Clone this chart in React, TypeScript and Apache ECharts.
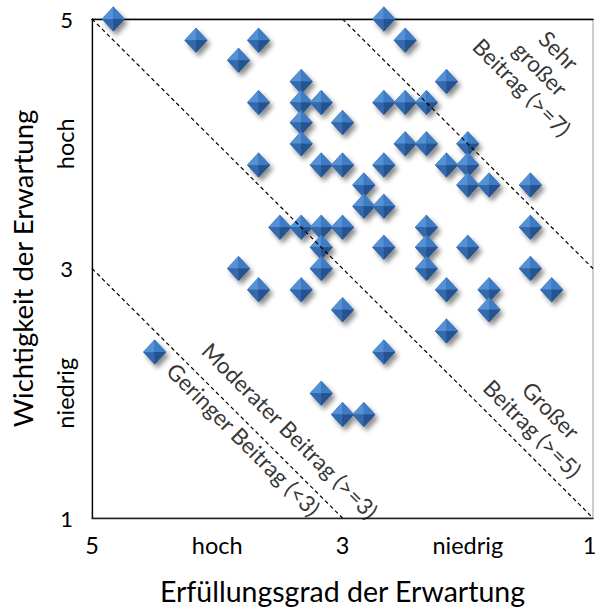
import React, { useEffect, useRef } from "react";
import * as echarts from "echarts";

// Erfüllungsgrad der Erwartung (x) und Wichtigkeit der Erwartung (y)
const erfuellung = [
  4.83, 4.17, 3.67, 3.83, 3.67, 3.33, 3.33, 3.17, 3.33, 3.33, 3.0, 3.67, 3.17, 3.0,
  2.67, 2.5, 2.17, 2.67, 2.5, 2.33, 2.5, 2.33, 2.0, 2.67, 2.17, 2.0, 2.83, 2.0, 1.83, 1.5,
  2.83, 2.67, 3.5, 3.33, 3.17, 3.0, 3.17, 3.17, 2.33, 2.33, 2.33, 2.67, 2.0, 1.5, 1.5,
  3.83, 3.67, 3.33, 2.17, 1.83, 1.83, 1.33, 3.0, 2.17, 4.5, 2.67, 3.17, 3.0, 2.83,
];
const wichtigkeit = [
  5.0, 4.83, 4.83, 4.67, 4.33, 4.5, 4.33, 4.33, 4.17, 4.0, 4.17, 3.83, 3.83, 3.83,
  5.0, 4.83, 4.5, 4.33, 4.33, 4.33, 4.0, 4.0, 4.0, 3.83, 3.83, 3.83, 3.67, 3.67, 3.67, 3.67,
  3.5, 3.5, 3.33, 3.33, 3.33, 3.33, 3.17, 3.0, 3.33, 3.17, 3.0, 3.17, 3.17, 3.33, 3.0,
  3.0, 2.83, 2.83, 2.83, 2.83, 2.67, 2.83, 2.67, 2.5, 2.33, 2.33, 2.0, 1.83, 1.83,
];

const xTickLabels: Record<number, string> = { 5: "5", 4: "hoch", 3: "3", 2: "niedrig", 1: "1" };
const yNumberLabels: Record<number, string> = { 5: "5", 3: "3", 1: "1" };
const yWordLabels: Record<number, string> = { 4: "hoch", 2: "niedrig" };

// Grenzlinien (Endpunkte in Datenkoordinaten)
const grenzeModerat = [[5, 3], [3, 1]];
const grenzeGross = [[5, 5], [1, 1]];
const grenzeSehrGross = [[3, 5], [1, 3]];

const bereichsTexte = [
  "Sehr\ngroßer\nBeitrag (>=7)",
  "Großer\nBeitrag (>=5)",
  "Moderater Beitrag (>=3)",
  "Geringer Beitrag (<3)",
];

const FONT = "Lato";

export default function App() {
  const ref = useRef<HTMLDivElement>(null);
  useEffect(() => {
    if (!ref.current) return;
    const chart = echarts.init(ref.current, undefined, { renderer: "svg" });

    const anchors = [[1.42, 4.6], [1.41, 1.79], [3.42, 1.70], [3.79, 1.63]];

    const dashed = (d: number[][]) => ({
      type: "line",
      data: d,
      symbol: "none",
      silent: true,
      z: 5,
      lineStyle: { color: "#000", width: 1.2, type: [4, 3] },
    });

    const option: any = {
      animation: false,
      grid: {
        left: 92, top: 19, right: 5, bottom: 90,
        show: true, borderColor: "#9a9a9a", borderWidth: 1,
        outerBoundsMode: "none",
      },
      xAxis: [
        {
          type: "value", min: 1, max: 5, interval: 1, inverse: true, position: "bottom",
          axisLine: { show: true, onZero: false, lineStyle: { color: "#222", width: 1.3 } },
          axisTick: { show: false },
          splitLine: { show: false },
          axisLabel: {
            formatter: (v: number) => (v === 1 ? "{e|1}" : xTickLabels[v] ?? ""),
            fontFamily: FONT, fontSize: 23.5, color: "#000", margin: 15,
            rich: { e: { fontFamily: FONT, fontSize: 23.5, color: "#000", padding: [0, 7, 0, 0] } },
          },
          name: "Erfüllungsgrad der Erwartung",
          nameLocation: "middle",
          nameGap: 58,
          nameTextStyle: { fontFamily: FONT, fontSize: 28.5, color: "#000" },
        },
        {
          type: "value", min: 1, max: 5, interval: 1, inverse: true, position: "top",
          axisLine: { show: true, onZero: false, lineStyle: { color: "#000", width: 1.3 } },
          axisTick: { show: false }, axisLabel: { show: false }, splitLine: { show: false },
        },
      ],
      yAxis: [
        {
          type: "value", min: 1, max: 5, interval: 1, position: "left",
          axisLine: { show: true, onZero: false, lineStyle: { color: "#000", width: 1.3 } },
          axisTick: { show: false },
          splitLine: { show: false },
          axisLabel: {
            formatter: (v: number) => yNumberLabels[v] ?? "",
            fontFamily: FONT, fontSize: 22, color: "#000", margin: 19,
          },
          name: "Wichtigkeit der Erwartung",
          nameLocation: "middle",
          nameGap: 56,
          nameTextStyle: { fontFamily: FONT, fontSize: 27.5, color: "#000" },
        },
        {
          type: "value", min: 1, max: 5, interval: 1, position: "left",
          axisLine: { show: false }, axisTick: { show: false }, splitLine: { show: false },
          axisLabel: {
            rotate: 90,
            formatter: (v: number) => yWordLabels[v] ?? "",
            fontFamily: FONT, fontSize: 23.5, color: "#000", margin: 15,
          },
        },
      ],
      series: [
        {
          type: "custom",
          z: 3,
          data: erfuellung.map((x, i) => [x, wichtigkeit[i]]),
          renderItem: (_p: any, api: any) => {
            const [cx, cy] = api.coord([api.value(0), api.value(1)]);
            const hw = 11.5, hh = 12.5;
            const T = [cx, cy - hh], R = [cx + hw, cy], B = [cx, cy + hh], L = [cx - hw, cy], C = [cx, cy];
            return {
              type: "group",
              children: [
                {
                  type: "polygon", shape: { points: [T, R, B, L] },
                  style: {
                    fill: "#2f65a8", shadowBlur: 5, shadowOffsetX: 3, shadowOffsetY: 4,
                    shadowColor: "rgba(0,0,0,0.45)",
                  },
                },
                { type: "polygon", shape: { points: [T, L, C] }, style: { fill: "#5591d5" } },
                { type: "polygon", shape: { points: [T, R, C] }, style: { fill: "#3f7cc5" } },
                { type: "polygon", shape: { points: [L, B, C] }, style: { fill: "#3569ae" } },
                { type: "polygon", shape: { points: [R, B, C] }, style: { fill: "#24538f" } },
              ],
            };
          },
        },
        dashed(grenzeModerat),
        dashed(grenzeGross),
        dashed(grenzeSehrGross),
        {
          type: "scatter",
          symbolSize: 0,
          silent: true,
          z: 6,
          data: bereichsTexte.map((t, i) => ({ name: t, value: anchors[i] })),
          label: {
            show: true, position: "inside", rotate: -45,
            formatter: "{b}", fontFamily: FONT, fontSize: 22.5, lineHeight: 26,
            color: "#000", align: "center", verticalAlign: "middle",
          },
        },
      ],
    };
    chart.setOption(option);
    return () => chart.dispose();
  }, []);
  return (
    <div
      ref={ref}
      style={{ position: "fixed", left: 0, top: 0, width: 598, height: 608, background: "#fff" }}
    />
  );
}
